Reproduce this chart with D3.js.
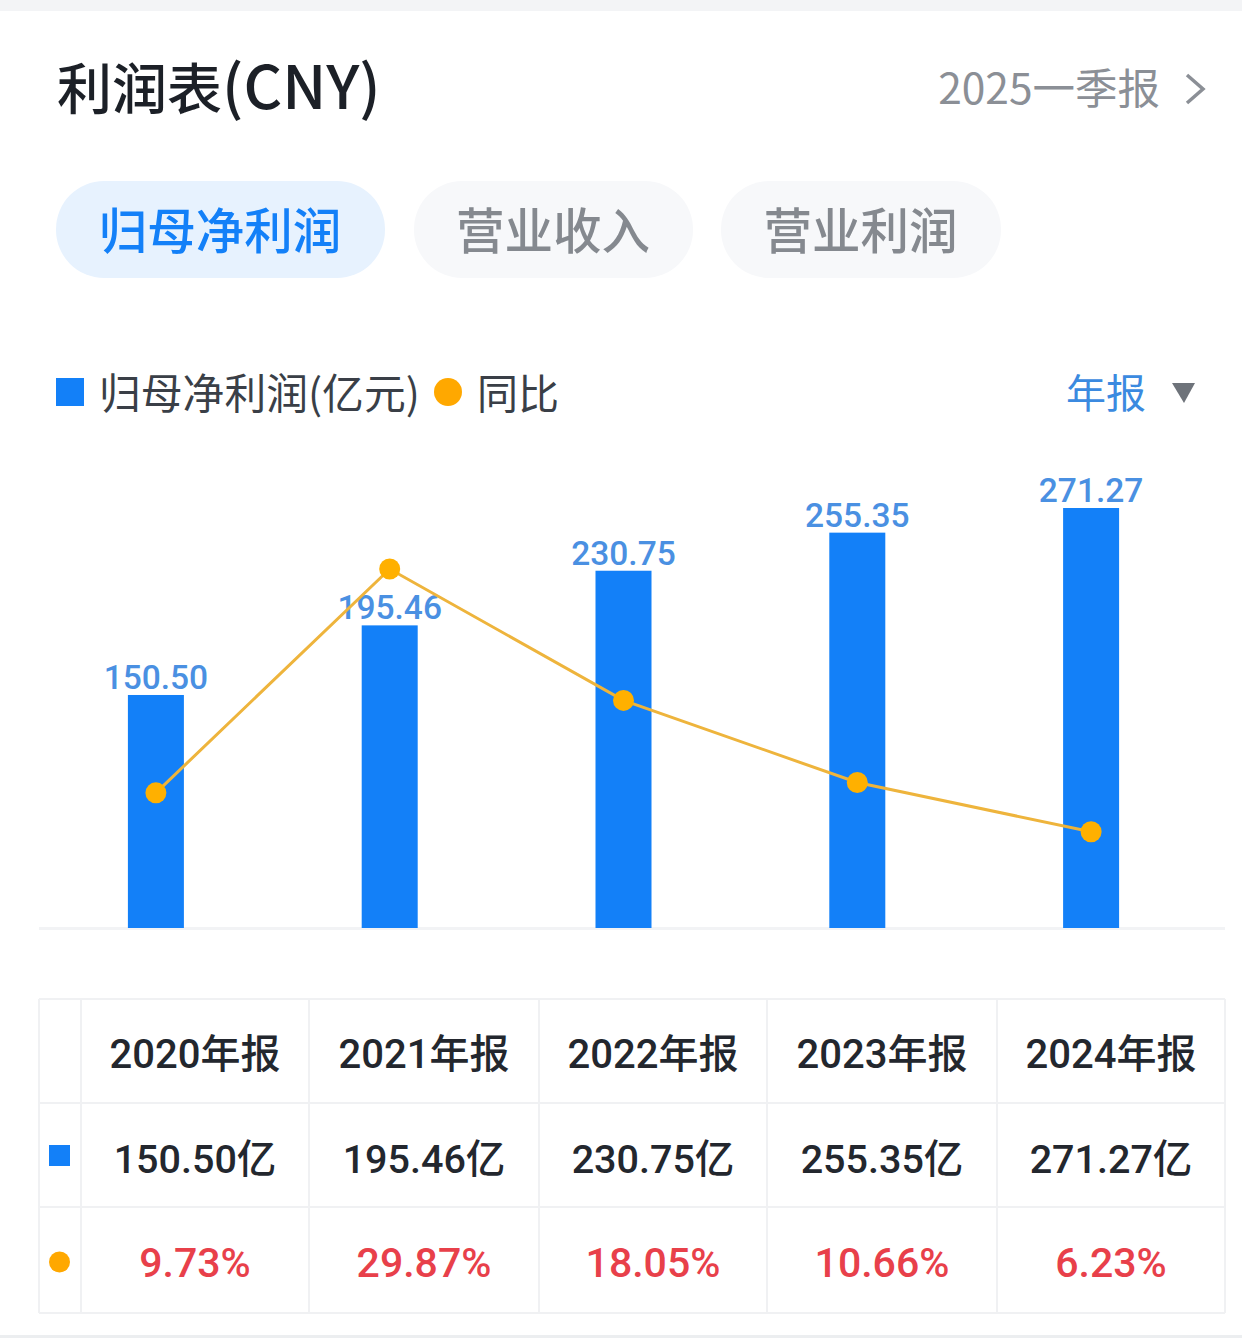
<!DOCTYPE html>
<html>
<head>
<meta charset="utf-8">
<script src="https://cdnjs.cloudflare.com/ajax/libs/d3/7.8.5/d3.min.js"></script>
<style>
html, body { margin: 0; padding: 0; background: #fff; }
svg { display: block; }
text { font-family: "Noto Sans CJK SC", sans-serif; }
.num { font-family: Roboto, "Noto Sans CJK SC", sans-serif; font-weight: 500; }
</style>
</head>
<body>
<div id="chart"></div>
<script>
const years = ['2020', '2021', '2022', '2023', '2024']
const columnLabels = ['2020年报', '2021年报', '2022年报', '2023年报', '2024年报']
const profit = [150.50, 195.46, 230.75, 255.35, 271.27]
const growth = [9.73, 29.87, 18.05, 10.66, 6.23]
const tabs = ['归母净利润', '营业收入', '营业利润']

const W = 1242, H = 1338
const svg = d3.select('#chart').append('svg').attr('width', W).attr('height', H)

function label(x, y, str, size, color, anchor, cls) {
    return svg.append('text')
        .attr('x', x).attr('y', y)
        .attr('font-size', size)
        .attr('fill', color)
        .attr('text-anchor', anchor || 'start')
        .attr('class', cls || null)
        .text(str)
}

// page edges
svg.append('rect').attr('width', W).attr('height', 11).attr('fill', '#f3f4f6')
svg.append('rect').attr('y', 1335).attr('width', W).attr('height', 3).attr('fill', '#eceef0')

// header
let title = label(57, 109, '利润表', 55, '#1c2027').attr('font-weight', 500)
title.append('tspan').attr('font-size', 60).text('(CNY)')
label(1160, 104, '2025一季报', 42.5, '#8b8f96', 'end')
svg.append('path').attr('d', 'M1187,75 L1203,89 L1187,103').attr('fill', 'none')
    .attr('stroke', '#8b8f96').attr('stroke-width', 3.5)

// tabs
const tabBoxes = [[56, 329], [414, 279], [721, 280]]
tabs.forEach(function(t, i) {
    svg.append('rect')
        .attr('x', tabBoxes[i][0]).attr('y', 181)
        .attr('width', tabBoxes[i][1]).attr('height', 97).attr('rx', 48)
        .attr('fill', i == 0 ? '#e7f2fe' : '#f7f8fa')
    label(tabBoxes[i][0] + tabBoxes[i][1] / 2 - 0.5, 249, t, 48.5, i == 0 ? '#1380f8' : '#85898f', 'middle')
        .attr('font-weight', 500)
})

// legend
svg.append('rect').attr('x', 56).attr('y', 378).attr('width', 28).attr('height', 28).attr('fill', '#1380f8')
label(99, 409, '归母净利润(亿元)', 41.8, '#3a3f47')
svg.append('circle').attr('cx', 448).attr('cy', 392).attr('r', 14).attr('fill', '#ffa800')
label(477, 409, '同比', 41, '#3a3f47')
label(1146, 408, '年报', 40, '#3b8ae0', 'end')
svg.append('path').attr('d', 'M1172,383 L1195,383 L1184,403 Z').attr('fill', '#6e737a')

// chart scales
const x = d3.scaleBand().domain(years).range([39, 1208])
const y = d3.scaleLinear().domain([0, 271.27]).range([928, 508])
const yGrowth = d3.scaleLinear().domain([0, 29.87]).range([901, 569])
const barW = 56

svg.append('line').attr('x1', 39).attr('x2', 1225).attr('y1', 928.5).attr('y2', 928.5)
    .attr('stroke', '#f2f3f5').attr('stroke-width', 3)

svg.selectAll('.bar').data(profit).enter().append('rect')
    .attr('class', 'bar')
    .attr('x', (d, i) => x(years[i]) + x.bandwidth() / 2 - barW / 2)
    .attr('y', d => y(d))
    .attr('width', barW)
    .attr('height', d => y(0) - y(d))
    .attr('fill', '#1380f8')

svg.selectAll('.barlabel').data(profit).enter().append('text')
    .attr('class', 'barlabel num')
    .attr('x', (d, i) => x(years[i]) + x.bandwidth() / 2)
    .attr('y', d => y(d) - 6)
    .attr('text-anchor', 'middle')
    .attr('font-size', 33.5)
    .attr('fill', '#4a90e2')
    .text(d => d.toFixed(2))

const line = d3.line()
    .x((d, i) => x(years[i]) + x.bandwidth() / 2)
    .y(d => yGrowth(d))
svg.append('path').datum(growth).attr('d', line)
    .attr('fill', 'none').attr('stroke', '#eeb43c').attr('stroke-width', 3)

svg.selectAll('.dot').data(growth).enter().append('circle')
    .attr('class', 'dot')
    .attr('cx', (d, i) => x(years[i]) + x.bandwidth() / 2)
    .attr('cy', d => yGrowth(d))
    .attr('r', 10.5)
    .attr('fill', '#ffb000')

// table
const colEdges = [39, 81, 309, 539, 767, 997, 1225]
const rowEdges = [999, 1103, 1207, 1313]
colEdges.forEach(function(c) {
    svg.append('line').attr('x1', c).attr('x2', c).attr('y1', 999).attr('y2', 1313)
        .attr('stroke', '#f0f1f3').attr('stroke-width', 2)
})
rowEdges.forEach(function(r) {
    svg.append('line').attr('x1', 39).attr('x2', 1225).attr('y1', r).attr('y2', r)
        .attr('stroke', '#f0f1f3').attr('stroke-width', 2)
})
const col = i => (colEdges[i + 1] + colEdges[i + 2]) / 2

columnLabels.forEach(function(t, i) { label(col(i), 1068, t, 40, '#23272e', 'middle', 'num') })
profit.forEach(function(d, i) { label(col(i), 1173, d.toFixed(2) + '亿', 39.5, '#23272e', 'middle', 'num') })
growth.forEach(function(d, i) { label(col(i), 1277, d.toFixed(2) + '%', 41, '#e8404a', 'middle', 'num') })

svg.append('rect').attr('x', 49).attr('y', 1145).attr('width', 21).attr('height', 21).attr('fill', '#1380f8')
svg.append('circle').attr('cx', 59.5).attr('cy', 1262).attr('r', 10.5).attr('fill', '#ffa800')
</script>
</body>
</html>
